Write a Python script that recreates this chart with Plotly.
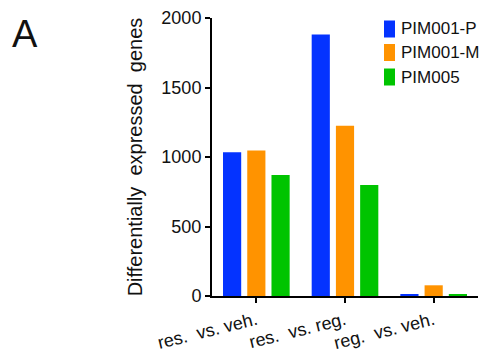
import plotly.graph_objects as go

# Comparisons on the x axis and the number of differentially expressed genes per compound
comparisons = ["res.\u00a0 vs. veh.", "res.\u00a0 vs. reg.", "reg.\u00a0 vs. veh."]
series_names = ["PIM001-P", "PIM001-M", "PIM005"]
pim001_p = [1035, 1882, 14]
pim001_m = [1047, 1225, 77]
pim005 = [871, 799, 12]
y_ticks = [0, 500, 1000, 1500, 2000]

colors = ["#0433FF", "#FF9300", "#00C400"]
values = [pim001_p, pim001_m, pim005]

W, H = 484, 355
L, R, T, B = 212, 6, 18, 59
font_family = "Liberation Sans, Arial, sans-serif"

fig = go.Figure()
for name, vals, col in zip(series_names, values, colors):
    fig.add_trace(go.Bar(x=comparisons, y=vals, name=name, marker_color=col,
                         marker_line_width=0, showlegend=False))

# Hand-built legend: tall colour swatches with labels beside them
pw = W - L - R
ph = H - T - B
def px_x(p):
    return (p - L) / pw
def px_y(p):
    return 1 - (p - T) / ph

legend_centers = [29, 52.5, 77]
for name, col, cy in zip(series_names, colors, legend_centers):
    fig.add_shape(type="rect", xref="paper", yref="paper",
                  x0=px_x(384), x1=px_x(395), y0=px_y(cy + 8.5), y1=px_y(cy - 8.5),
                  fillcolor=col, line_width=0)
    fig.add_annotation(xref="paper", yref="paper", x=px_x(399), y=px_y(cy),
                       text=name, showarrow=False, xanchor="left", yanchor="middle",
                       font=dict(size=17, color="#111", family=font_family))

# Panel letter
fig.add_annotation(xref="paper", yref="paper", x=px_x(10), y=px_y(11),
                   text="A", showarrow=False, xanchor="left", yanchor="top",
                   font=dict(size=38, color="#111", family=font_family))

fig.update_layout(
    width=W, height=H,
    margin=dict(l=L, r=R, t=T, b=B),
    paper_bgcolor="white", plot_bgcolor="white",
    barmode="group", bargap=0.18, bargroupgap=0.25,
    font=dict(family=font_family, color="#111"),
)
fig.update_xaxes(
    type="category", range=[-0.5, 2.5], automargin=False,
    showline=True, linecolor="black", linewidth=2,
    ticks="outside", ticklen=5, tickwidth=2, tickcolor="black",
    tickangle=-14, tickfont=dict(size=18, color="#111"),
    showgrid=False, zeroline=False,
)
fig.update_yaxes(
    range=[0, 2000], tickvals=y_ticks, automargin=False,
    showline=True, linecolor="black", linewidth=2,
    ticks="outside", ticklen=5, tickwidth=2, tickcolor="black",
    tickfont=dict(size=18, color="#111"),
    showgrid=False, zeroline=False,
    title=dict(text="Differentially\u00a0 expressed\u00a0 genes",
               font=dict(size=20, color="#111"), standoff=13),
)

fig.write_html("out.html")
